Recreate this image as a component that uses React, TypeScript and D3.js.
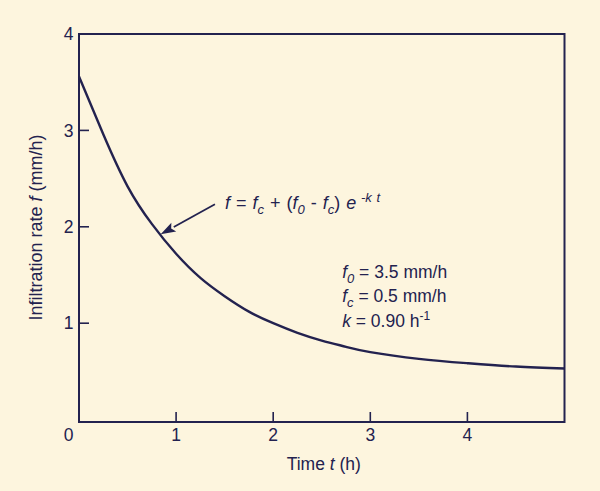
import React from 'react';
import * as d3 from 'd3';

// values (t in h, f in mm/h)
const timeH = [0, 0.25, 0.5, 0.75, 1, 1.25, 1.5, 1.75, 2, 2.25, 2.5, 2.75, 3, 3.5, 4, 4.5, 5];
const rateF = [3.56, 2.96, 2.42, 2.03, 1.72, 1.47, 1.28, 1.12, 1.0, 0.9, 0.82, 0.755, 0.7, 0.63, 0.585, 0.55, 0.53];

const xTicks = [1, 2, 3, 4];
const yTicks = [1, 2, 3, 4];

const INK = '#23224f';
const BG = '#fdf5de';
const FONT = '"Liberation Sans", Arial, Helvetica, sans-serif';

const App: React.FC = () => {
    const svgRef = React.useRef<SVGSVGElement>(null);

    React.useEffect(() => {
        document.body.style.margin = '0';
        const svg = d3.select(svgRef.current);
        svg.selectAll('*').remove();

        const width = 600;
        const height = 491;
        svg.attr('width', width).attr('height', height);

        svg.append('rect').attr('width', width).attr('height', height).attr('fill', BG);

        const x = d3.scaleLinear().domain([0, 5]).range([79, 564.5]);
        const y = d3.scaleLinear().domain([-0.025, 4]).range([422, 34]);

        const g = svg.append('g').attr('font-family', FONT).attr('fill', INK);

        // frame
        g.append('rect')
          .attr('x', x(0))
          .attr('y', y(4))
          .attr('width', x(5) - x(0))
          .attr('height', y(-0.025) - y(4))
          .attr('fill', 'none')
          .attr('stroke', INK)
          .attr('stroke-width', 2);

        // inward ticks
        g.selectAll('.xt')
          .data(xTicks)
          .join('line')
          .attr('x1', d => x(d)).attr('x2', d => x(d))
          .attr('y1', y(-0.025)).attr('y2', y(-0.025) - 10)
          .attr('stroke', INK).attr('stroke-width', 1.6);
        g.selectAll('.yt')
          .data(yTicks.filter(d => d < 4))
          .join('line')
          .attr('x1', x(0)).attr('x2', x(0) + 10)
          .attr('y1', d => y(d)).attr('y2', d => y(d))
          .attr('stroke', INK).attr('stroke-width', 1.6);

        // tick labels
        g.selectAll('.xl')
          .data(xTicks)
          .join('text')
          .attr('x', d => x(d))
          .attr('y', 441)
          .attr('text-anchor', 'middle')
          .attr('font-size', 17.5)
          .text(d => d);
        g.selectAll('.yl')
          .data(yTicks)
          .join('text')
          .attr('x', x(0) - 5.5)
          .attr('y', d => y(d) + 6.3)
          .attr('text-anchor', 'end')
          .attr('font-size', 17.5)
          .text(d => d);
        g.append('text')
          .attr('x', x(0) - 5.5)
          .attr('y', 441)
          .attr('text-anchor', 'end')
          .attr('font-size', 17.5)
          .text('0');

        // axis titles
        const xt = g.append('text')
          .attr('x', (x(0) + x(5)) / 2 + 2)
          .attr('y', 469.5)
          .attr('text-anchor', 'middle')
          .attr('font-size', 17.5);
        xt.append('tspan').text('Time ');
        xt.append('tspan').attr('font-style', 'italic').text('t');
        xt.append('tspan').text(' (h)');

        const yt = g.append('text')
          .attr('transform', `translate(42,${(y(4) + y(-0.025)) / 2 - 0.5}) rotate(-90)`)
          .attr('text-anchor', 'middle')
          .attr('font-size', 18);
        yt.append('tspan').text('Infiltration rate ');
        yt.append('tspan').attr('font-style', 'italic').text('f');
        yt.append('tspan').text(' (mm/h)');

        // curve
        const pts = timeH.map((t, i) => [t, rateF[i]] as [number, number]);
        const line = d3.line<[number, number]>()
          .x(d => x(d[0]))
          .y(d => y(d[1]))
          .curve(d3.curveNatural);
        g.append('path')
          .attr('d', line(pts))
          .attr('fill', 'none')
          .attr('stroke', INK)
          .attr('stroke-width', 2.4);

        // arrow to curve
        const tail: [number, number] = [1.4, 2.234];
        const tip: [number, number] = [0.841, 1.922];
        const tx = x(tail[0]), ty = y(tail[1]), hx = x(tip[0]), hy = y(tip[1]);
        const ang = Math.atan2(hy - ty, hx - tx);
        const headLen = 15, headW = 5;
        const bx = hx - headLen * Math.cos(ang), by = hy - headLen * Math.sin(ang);
        g.append('line')
          .attr('x1', tx).attr('y1', ty).attr('x2', bx).attr('y2', by)
          .attr('stroke', INK).attr('stroke-width', 1.8);
        g.append('path')
          .attr('d', `M${hx},${hy}L${bx + headW * Math.sin(ang)},${by - headW * Math.cos(ang)}L${bx + 3 * Math.cos(ang)},${by + 3 * Math.sin(ang)}L${bx - headW * Math.sin(ang)},${by + headW * Math.cos(ang)}Z`)
          .attr('fill', INK);

        // formula
        const fm = g.append('text')
          .attr('x', x(1.504))
          .attr('y', y(2.183))
          .attr('font-size', 18)
          .attr('word-spacing', 1);
        const it = (s: string) => fm.append('tspan').attr('font-style', 'italic').text(s);
        const sub = (s: string) => fm.append('tspan').attr('font-style', 'italic').attr('font-size', 13).attr('dy', 5).text(s);
        const up = (s: string) => fm.append('tspan').attr('dy', -5).text(s);
        it('f');
        fm.append('tspan').text(' = ');
        it('f');
        sub('c');
        up(' + (');
        it('f');
        sub('0');
        up(' - ');
        it('f');
        sub('c');
        up(') ');
        it('e');
        fm.append('tspan').attr('font-style', 'italic').attr('font-size', 13).attr('dy', -7).text(' -k t');

        // parameters
        const params: { sym: string; sub: string; rest: string; sup?: string; f: number }[] = [
            { sym: 'f', sub: '0', rest: ' = 3.5 mm/h', f: 1.471 },
            { sym: 'f', sub: 'c', rest: ' = 0.5 mm/h', f: 1.218 },
            { sym: 'k', sub: '', rest: ' = 0.90 h', sup: '-1', f: 0.965 }
        ];
        params.forEach(p => {
            const t = g.append('text').attr('x', x(2.71)).attr('y', y(p.f)).attr('font-size', 17.5);
            t.append('tspan').attr('font-style', 'italic').text(p.sym);
            if (p.sub) {
                t.append('tspan').attr('font-style', 'italic').attr('font-size', 13).attr('dy', 5).text(p.sub);
                t.append('tspan').attr('dy', -5).text(p.rest);
            } else {
                t.append('tspan').text(p.rest);
            }
            if (p.sup) {
                t.append('tspan').attr('font-size', 12).attr('dy', -7).text(p.sup);
            }
        });
    }, []);

    return (
        <svg ref={svgRef} style={{ display: 'block', position: 'absolute', left: 0, top: 0 }} />
    );
};

export default App;
